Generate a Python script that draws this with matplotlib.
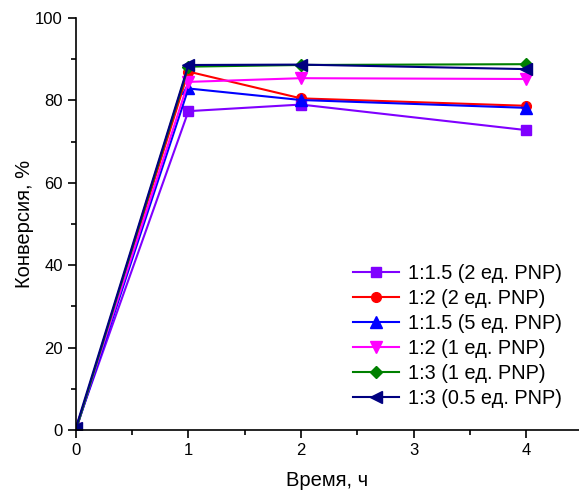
import matplotlib
matplotlib.use("Agg")
import matplotlib.pyplot as plt
from matplotlib.ticker import MultipleLocator

plt.rcParams['font.family'] = ['Liberation Sans', 'DejaVu Sans']

time_h = [0, 1, 2, 4]
labels = ["1:1.5 (2 ед. PNP)", "1:2 (2 ед. PNP)", "1:1.5 (5 ед. PNP)",
          "1:2 (1 ед. PNP)", "1:3 (1 ед. PNP)", "1:3 (0.5 ед. PNP)"]
s1 = [0.5, 77.4, 79.0, 72.8]
s2 = [0, 87.0, 80.5, 78.7]
s3 = [0, 82.9, 80.1, 78.2]
s4 = [0.3, 84.5, 85.4, 85.2]
s5 = [0, 88.2, 88.6, 88.8]
s6 = [0.5, 88.6, 88.7, 87.6]
series = [s1, s2, s3, s4, s5, s6]
colors = ["#8000ff", "#ff0000", "#0000ff", "#ff00ff", "#008000", "#000080"]
markers = ["s", "o", "^", "v", "D", "<"]
msizes = [7, 7, 8, 8, 6, 8]

fig = plt.figure(figsize=(5.79, 4.90), dpi=100)
ax = fig.add_axes([0.131, 0.1224, 0.869, 0.8408])
for y, c, m, ms, lab in zip(series, colors, markers, msizes, labels):
    ax.plot(time_h, y, color=c, marker=m, markersize=ms, linewidth=1.5, label=lab)

ax.set_xlim(0, 4.47)
ax.set_ylim(0, 100)
ax.xaxis.set_major_locator(MultipleLocator(1))
ax.xaxis.set_minor_locator(MultipleLocator(0.5))
ax.yaxis.set_major_locator(MultipleLocator(20))
ax.yaxis.set_minor_locator(MultipleLocator(10))
ax.spines['top'].set_visible(False)
ax.spines['right'].set_visible(False)
ax.spines['left'].set_linewidth(1.2)
ax.spines['bottom'].set_linewidth(1.2)
ax.tick_params(which='major', direction='out', length=6, width=1.2, labelsize=12)
ax.tick_params(which='minor', direction='out', length=3.5, width=1.2)
for sp in ['left', 'bottom']:
    ax.spines[sp].set_clip_on(False)
ax.set_xlabel("Время, ч", fontsize=14.5, labelpad=9)
ax.set_ylabel("Конверсия, %", fontsize=14.5, labelpad=1)
leg = ax.legend(loc='lower right', bbox_to_anchor=(0.985, 0.03), frameon=False,
                fontsize=14.3, handlelength=2.3, labelspacing=0.3, borderaxespad=0.1,
                handletextpad=0.45)
fig.savefig("out.png", dpi=100)
